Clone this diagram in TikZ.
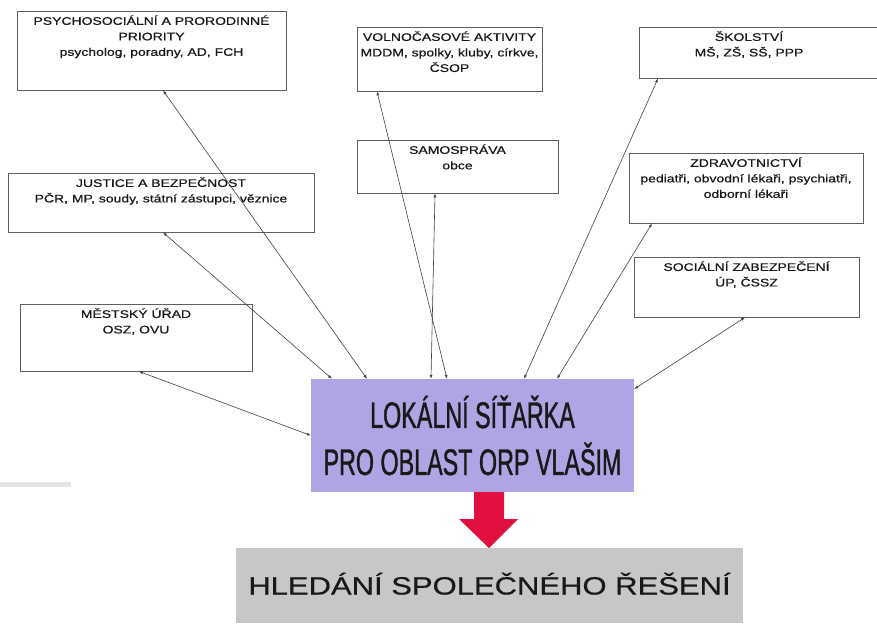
\documentclass[tikz,border=0pt]{standalone}
\usepackage{fontspec}
\setmainfont{Liberation Sans}
\newfontfamily\boxfont[FakeStretch=1.27, FakeBold=0.6]{Liberation Sans}
\newfontfamily\hubfont[FakeStretch=0.63, FakeBold=1]{Liberation Sans}
\newfontfamily\resfont[FakeStretch=1.24, FakeBold=0.6]{Liberation Sans}
\usetikzlibrary{arrows.meta}

\definecolor{hubviolet}{RGB}{176,164,228}
\definecolor{resgray}{RGB}{198,199,198}
\definecolor{arrowred}{RGB}{226,16,64}
\definecolor{boxline}{RGB}{95,95,95}

\tikzset{
	partner/.style={draw=boxline, line width=0.8pt, fill=white, inner sep=0pt},
	partnertext/.style={anchor=north, align=center, inner xsep=0pt, inner ysep=4.5pt,
		text=black!90, font=\boxfont\fontsize{11pt}{15.5pt}\selectfont},
	link/.style={draw=black!75, line width=0.6pt,
		{Latex[length=4pt,width=3pt]}-{Latex[length=4pt,width=3pt]}},
}

\begin{document}
\begin{tikzpicture}[x=1pt, y=-1pt]
		\useasboundingbox (0,0) rectangle (877,623);
		\fill[black!10] (0,482) rectangle (71,487);

		% partner boxes
		\node[partner, minimum width=269pt, minimum height=79pt,
			label={[partnertext]north:PSYCHOSOCIÁLNÍ A PRORODINNÉ\\PRIORITY\\psycholog, poradny, AD, FCH}]
			(psych) at (151.5,50.5) {};
		\node[partner, minimum width=185pt, minimum height=64pt,
			label={[partnertext]north:VOLNOČASOVÉ AKTIVITY\\MDDM, spolky, kluby, církve,\\ČSOP}]
			(volno) at (449.5,59) {};
		\node[partner, minimum width=243pt, minimum height=51pt,
			label={[partnertext, xshift=-11.5pt]north:ŠKOLSTVÍ\\MŠ, ZŠ, SŠ, PPP}]
			(skol) at (760.5,52.5) {};
		\node[partner, minimum width=201pt, minimum height=53pt,
			label={[partnertext]north:SAMOSPRÁVA\\obce}]
			(samo) at (457.5,166.5) {};
		\node[partner, minimum width=306pt, minimum height=59pt,
			label={[partnertext]north:JUSTICE A BEZPEČNOST\\PČR, MP, soudy, státní zástupci, věznice}]
			(justice) at (161,202.5) {};
		\node[partner, minimum width=234pt, minimum height=70pt,
			label={[partnertext]north:ZDRAVOTNICTVÍ\\pediatři, obvodní lékaři, psychiatři,\\odborní lékaři}]
			(zdrav) at (746,188) {};
		\node[partner, minimum width=225pt, minimum height=60pt,
			label={[partnertext]north:SOCIÁLNÍ ZABEZPEČENÍ\\ÚP, ČSSZ}]
			(socia) at (746.5,287) {};
		\node[partner, minimum width=232pt, minimum height=67pt,
			label={[partnertext]north:MĚSTSKÝ ÚŘAD\\OSZ, OVU}]
			(mest) at (136,337.5) {};

		% hub and result
		\node[fill=hubviolet, minimum width=323pt, minimum height=113pt, align=center,
			font=\hubfont\fontsize{37pt}{47pt}\selectfont, text=black!90]
			(hub) at (472.5,435.5) {LOKÁLNÍ SÍŤAŘKA\\PRO OBLAST ORP VLAŠIM};
		\node[fill=resgray, minimum width=507pt, minimum height=75pt, text height=18pt, text depth=0pt,
			font=\resfont\fontsize{25pt}{30pt}\selectfont, text=black!90]
			(result) at (489.5,585.5) {HLEDÁNÍ SPOLEČNÉHO ŘEŠENÍ};
		\fill[arrowred] (474,492) -- (504,492) -- (504,519) -- (518,519) -- (489,548)
			-- (459,519) -- (474,519) -- cycle;

		% links
		\draw[link] ([xshift=11.5pt]psych.south) -- ([xshift=-105.5pt]hub.north);
		\draw[link] ([xshift=2pt]justice.south) -- ([xshift=-140.5pt]hub.north);
		\draw[link] ([xshift=-72.5pt]volno.south) -- ([xshift=-25.5pt]hub.north);
		\draw[link] ([xshift=-22.5pt]samo.south) -- ([xshift=-41.5pt]hub.north);
		\draw[link] ([xshift=-102.5pt]skol.south) -- ([xshift=51.5pt]hub.north);
		\draw[link] ([xshift=-94pt]zdrav.south) -- ([xshift=84.5pt]hub.north);
		\draw[link] ([xshift=-1.5pt]socia.south) -- ([yshift=46.5pt]hub.east);
		\draw[link] ([xshift=3pt]mest.south) -- (hub.west);
	\end{tikzpicture}
\end{document}
